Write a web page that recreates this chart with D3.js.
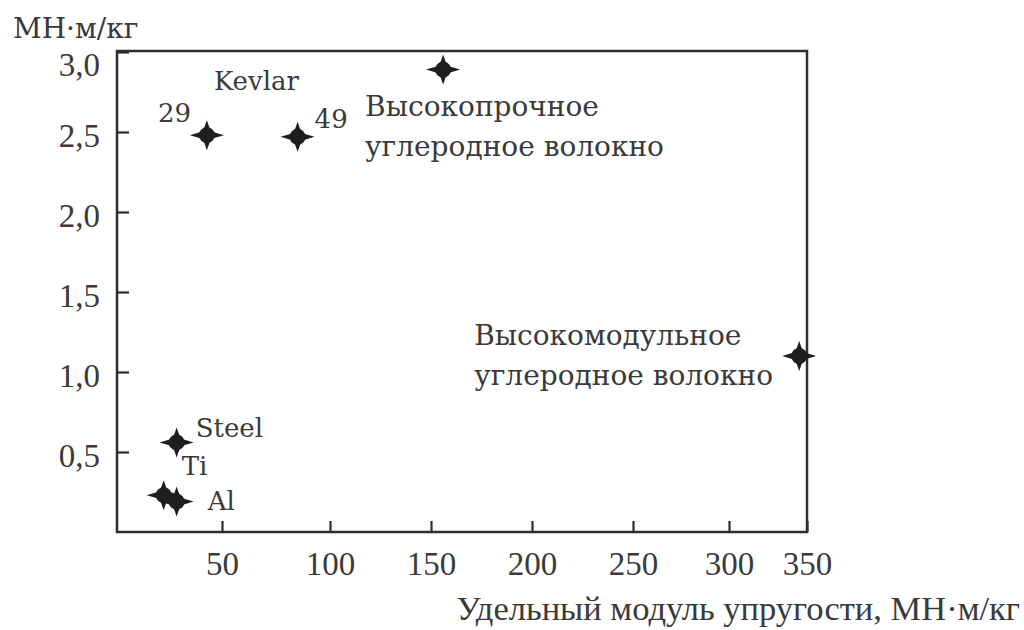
<!DOCTYPE html>
<html>
<head>
<meta charset="utf-8">
<script src="https://cdn.jsdelivr.net/npm/d3@7"></script>
<style>
html, body { margin: 0; background: #fff; }
svg { display: block; }
</style>
</head>
<body>
<svg id="chart" width="1024" height="630"></svg>
<script>
//----- DATA ---------------------------------------//
var materials = ['Kevlar 29', 'Kevlar 49', 'HS carbon', 'HM carbon', 'Steel', 'Ti', 'Al'];
var specModulus = [43, 85, 156, 345, 29, 23, 29];          // МН·м/кг
var specStrength = [2.48, 2.47, 2.89, 1.10, 0.56, 0.23, 0.19]; // МН·м/кг
var pointLabels = [
    ['29'],
    ['49'],
    ['Высокопрочное', 'углеродное волокно'],
    ['Высокомодульное', 'углеродное волокно'],
    ['Steel'],
    ['Ti'],
    ['Al']
];
var xTicks = [50, 100, 150, 200, 250, 300, 350];
var yTicks = [0.5, 1.0, 1.5, 2.0, 2.5, 3.0];
var groupLabel = 'Kevlar';
var yUnit = 'МН·м/кг';
var xTitle = 'Удельный модуль упругости, МН·м/кг';

//----- LAYOUT -------------------------------------//
var LEFT = 117, RIGHT = 807, TOP = 51, BOTTOM = 532;
// the printed axis is hand drawn: tick spacing shrinks to the right
var X_PX = [114, 222, 330, 431, 532, 633, 729, 807];
var INK = '#2e2e2e', TEXT = '#3a3a3a', MARK = '#1e1e1e';
var SERIF = '"Liberation Serif", "Times New Roman", serif';
var WIDE_SERIF = '"DejaVu Serif", serif';
// label offsets from each point, px
var LABEL_POS = [[-49, -13], [17, -9], [-78, 46], [-325, -11], [19, -5], [18, -20], [31, 8]];
var LINE_GAP = 40;

var comma = d3.formatLocale({ decimal: ',', thousands: ' ', grouping: [3], currency: ['', ''] });

var svg = d3.select('#chart');

var x = d3.scaleLinear().domain([0].concat(xTicks)).range(X_PX);
var y = d3.scaleLinear().domain([0, 3]).range([BOTTOM, 52]);

//----- FRAME --------------------------------------//
svg.append('rect')
    .attr('x', LEFT).attr('y', TOP)
    .attr('width', RIGHT - LEFT).attr('height', BOTTOM - TOP)
    .attr('fill', 'none')
    .attr('stroke', INK)
    .attr('stroke-width', 2.5);

//----- AXES (ticks point inward) ------------------//
var xAxis = svg.append('g')
    .attr('transform', 'translate(0,' + BOTTOM + ')')
    .call(d3.axisBottom(x).tickValues(xTicks).tickSizeInner(-11).tickSizeOuter(0).tickPadding(20).tickFormat(d3.format('d')));

var yAxis = svg.append('g')
    .attr('transform', 'translate(' + LEFT + ',0)')
    .call(d3.axisLeft(y).tickValues(yTicks).tickSizeInner(-12).tickSizeOuter(0).tickPadding(17).tickFormat(comma.format('.1f')));

[xAxis, yAxis].forEach(function (g) {
    g.select('.domain').remove();
    g.selectAll('.tick line').attr('stroke', INK).attr('stroke-width', 2.2);
    g.selectAll('.tick text')
        .attr('fill', TEXT)
        .style('font-family', SERIF)
        .style('font-size', '33px');
});
xAxis.selectAll('.tick text').attr('dy', '0.71em');
// top label sits lower in the print, clear of the unit
yAxis.selectAll('.tick text').attr('dy', function (d) { return d === 3 ? '0.72em' : '0.45em'; });

//----- AXIS TITLES --------------------------------//
svg.append('text')
    .attr('x', 13).attr('y', 38)
    .attr('fill', TEXT)
    .style('font-family', WIDE_SERIF)
    .style('font-size', '28px')
    .text(yUnit);

svg.append('text')
    .attr('x', 1020).attr('y', 620)
    .attr('text-anchor', 'end')
    .attr('fill', TEXT)
    .style('font-family', SERIF)
    .style('font-size', '34.5px')
    .text(xTitle);

//----- MARKERS ------------------------------------//
// four pointed star with a round body, as in the print
function starPoints(rx, ry, inner) {
    return d3.range(8).map(function (i) {
        var a = i * Math.PI / 4;
        var r = i % 2 ? inner : 1;
        return [Math.cos(a) * r * (i % 2 ? 1 : rx), Math.sin(a) * r * (i % 2 ? 1 : ry)];
    });
}
var star = d3.line().curve(d3.curveLinearClosed)(starPoints(17, 15, 5.5));

var points = svg.append('g')
    .selectAll('g')
    .data(materials).enter()
    .append('g')
        .attr('transform', function (d, i) {
            return 'translate(' + x(specModulus[i]) + ',' + y(specStrength[i]) + ')';
        });

points.append('path')
    .attr('d', star)
    .attr('fill', MARK);

points.append('circle')
    .attr('r', 8)
    .attr('fill', MARK);

//----- LABELS -------------------------------------//
var labels = points.append('text')
    .attr('fill', TEXT)
    .style('font-family', WIDE_SERIF)
    .style('font-size', function (d, i) { return pointLabels[i].length > 1 ? '28px' : '26px'; })
    .attr('transform', function (d, i) {
        return 'translate(' + LABEL_POS[i] + ')';
    });

labels.selectAll('tspan')
    .data(function (d, i) { return pointLabels[i]; }).enter()
    .append('tspan')
        .attr('x', 0)
        .attr('y', function (line, j) { return j * LINE_GAP; })
        .text(function (line) { return line; });

// group caption over the two Kevlar points
svg.append('text')
    .attr('x', x(specModulus[0]) + 7)
    .attr('y', y(specStrength[0]) - 45)
    .attr('fill', TEXT)
    .style('font-family', WIDE_SERIF)
    .style('font-size', '26px')
    .text(groupLabel);
</script>
</body>
</html>
